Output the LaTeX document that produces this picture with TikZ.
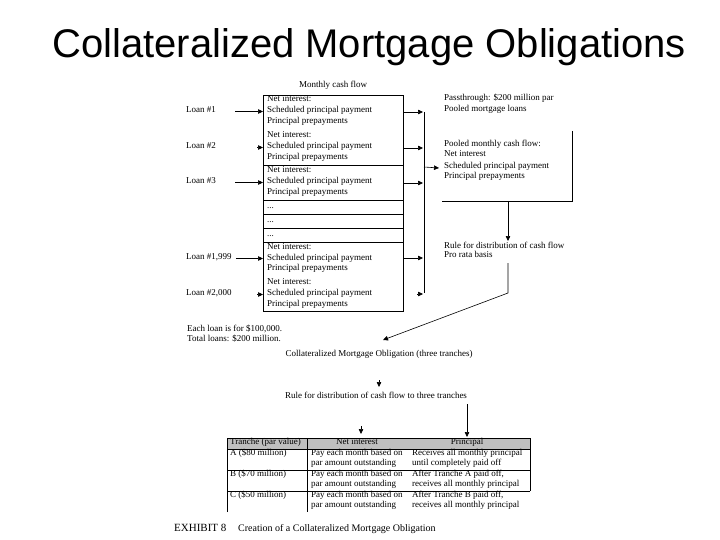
\documentclass[tikz,border=0pt]{standalone}
\usepackage{fontspec}
\setmainfont{Liberation Serif}
\newfontfamily\titlefont{Liberation Sans}
\usetikzlibrary{arrows.meta,calc}
\begin{document}
\begin{tikzpicture}[x=1pt,y=-1pt,
  txt/.style={font=\fontsize{9}{10}\selectfont, inner sep=0pt, text height=4pt, text depth=2pt, anchor=west},
  ctxt/.style={txt, anchor=center},
  ln/.style={line width=0.6pt},
  arr/.style={ln, -{Triangle[length=5pt,width=4.5pt]}},
]
\useasboundingbox (0,0) rectangle (720,540);
\fill[white] (0,0) rectangle (720,540);
% title
\node[anchor=base west, inner sep=0pt, font=\titlefont\fontsize{40}{44}\selectfont] (title) at (52,58) {Collateralized Mortgage Obligations};
% monthly cash flow box
\node[ctxt] (mcf) at (333,87) {Monthly cash flow};
\node[draw, ln, anchor=north west, minimum width=140pt, minimum height=216pt, inner sep=0pt] (box) at (263,95) {};
\foreach \y in {165,200,214,228,242} \draw[ln] (box.west |- 0,\y) -- (box.east |- 0,\y);
\foreach \y/\n in {101/a,137/b,172/c,248/d,283.5/e}{
  \node[txt] (ni\n) at (267,\y) {Net interest:};
  \node[txt] (sp\n) at (267,\y+11) {Scheduled principal payment};
  \node[txt] (pp\n) at (267,\y+21.5) {Principal prepayments};
}
\foreach \y/\n in {207.5/a,221.5/b,235.5/c} \node[txt] (dots\n) at (267,\y) {...};
% loans
\node[txt] (loan1) at (186,111.5) {Loan \#1};
\node[txt] (loan2) at (186,147.5) {Loan \#2};
\node[txt] (loan3) at (186,182.5) {Loan \#3};
\node[txt] (loan4) at (186,258.5) {Loan \#1,999};
\node[txt] (loan5) at (186,294.5) {Loan \#2,000};
\draw[arr] ([xshift=19pt]loan1.east) -- (box.west |- loan1);
\draw[arr] ($(box.west |- loan2)+(-6,0)$) -- (box.west |- loan2);
\draw[arr] ([xshift=19pt]loan3.east) -- (box.west |- loan3);
\draw[arr] ([xshift=4pt]loan4.east) -- (box.west |- loan4);
\draw[arr] ($(box.west |- loan5)+(-6,0)$) -- (box.west |- loan5);
% outgoing arrows
\coordinate (vt) at (424,112);
\coordinate (vb) at (424,293);
\draw[ln] (vt) -- (vb);
\foreach \y in {112,148,183,258} \draw[arr] (box.east |- 0,\y) -- (423,\y);
\draw[arr] (417,294) -- (423,294);
% pooled texts
\node[txt] (pt1) at (444,100) {Passthrough: \$200 million par};
\node[txt] (pt2) at (444,111) {Pooled mortgage loans};
\node[txt] (pm1) at (444,146) {Pooled monthly cash flow:};
\node[txt] (pm2) at (444,156) {Net interest};
\node[txt] (pm3) at (444,168) {Scheduled principal payment};
\node[txt] (pm4) at (444,178) {Principal prepayments};
\draw[arr] (vt |- 0,167) -- ([xshift=-5pt]pm3.west);
% bracket
\draw[ln] (572,131) -- (572,201) -- (442,201);
\coordinate (bk) at (508,201);
\node[txt] (r1) at (444,247) {Rule for distribution of cash flow};
\node[txt] (r2) at (444,257) {Pro rata basis};
\draw[arr] (bk) -- (508,241);
\coordinate (dg) at (508,263);
\coordinate (cmotip) at (383,340);
\draw[arr] (dg) -- (508,293) -- (cmotip);
% notes
\node[txt] (n1) at (187,330) {Each loan is for \$100,000.};
\node[txt] (n2) at (187,340) {Total loans: \$200 million.};
% CMO
\node[ctxt] (cmo) at (379,355) {Collateralized Mortgage Obligation (three tranches)};
\draw[arr] (379,380) -- (379,387);
\node[ctxt] (rule3) at (376,397) {Rule for distribution of cash flow to three tranches};
\draw[arr] (467,404) -- (467,437);
\draw[arr] (361,426) -- (361,434);
% table
\fill[gray!50] (227,438) rectangle (530,449);
\draw[ln] (227,512) -- (227,438) -- (530,438) -- (530,491);
\foreach \y in {449,470,491} \draw[ln] (227,\y) -- (530,\y);
\draw[ln] (307,438) -- (307,512);
\node[txt] (h1) at (230,443) {Tranche (par value)};
\node[ctxt] (h2) at (357,443) {Net interest};
\node[ctxt] (h3) at (467,443) {Principal};
\node[txt] (ta) at (230,454) {A (\$80 million)};
\node[txt] (tb) at (230,475) {B (\$70 million)};
\node[txt] (tc) at (230,496) {C (\$50 million)};
\foreach \y/\n in {454/a,475/b,496/c}{
  \node[txt] (pay\n) at (311,\y) {Pay each month based on};
  \node[txt] (par\n) at (311,\y+10) {par amount outstanding};
}
\node[txt] (pa1) at (412,454) {Receives all monthly principal};
\node[txt] (pa2) at (412,464) {until completely paid off};
\node[txt] (pb1) at (412,475) {After Tranche A paid off,};
\node[txt] (pb2) at (412,485) {receives all monthly principal};
\node[txt] (pc1) at (412,496) {After Tranche B paid off,};
\node[txt] (pc2) at (412,506) {receives all monthly principal};
% caption
\node[anchor=base west, inner sep=0pt, font=\fontsize{11}{12}\selectfont] (ex) at (174,531) {EXHIBIT 8};
\node[anchor=base west, inner sep=0pt, font=\fontsize{10}{11}\selectfont] (ex2) at (238,531) {Creation of a Collateralized Mortgage Obligation};
\end{tikzpicture}
\end{document}
